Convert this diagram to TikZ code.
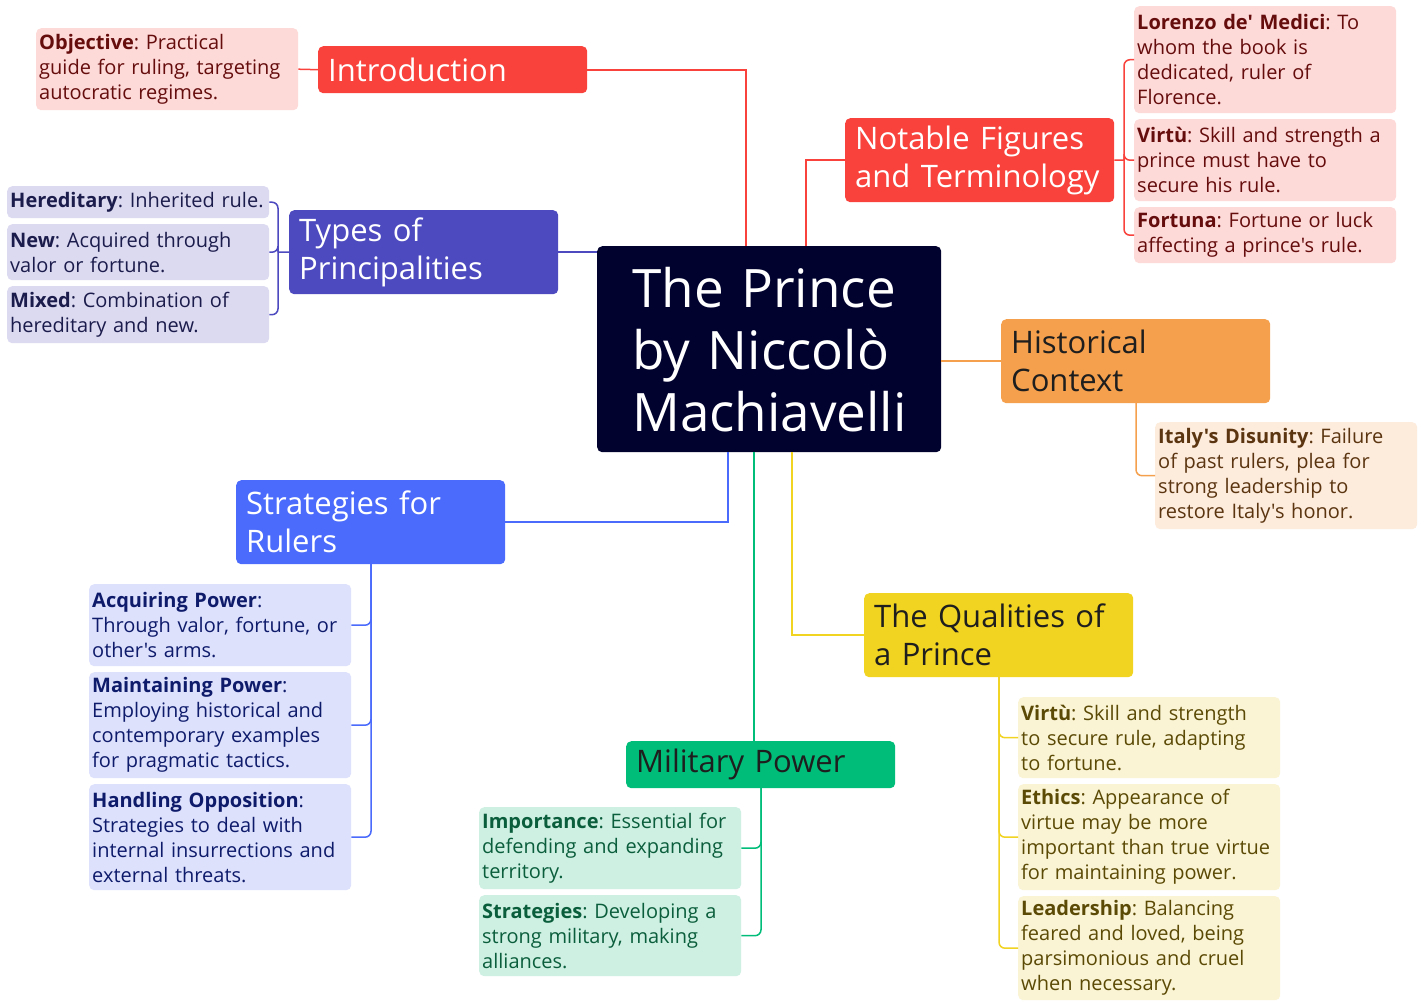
\documentclass[tikz,border=0pt]{standalone}
\usepackage{fontspec}
\setmainfont{Open Sans}[Ligatures=TeXOff]
\usetikzlibrary{calc}
\frenchspacing
\hyphenpenalty=10000
\exhyphenpenalty=10000

% palette
\definecolor{cRed}{HTML}{F8423B}
\definecolor{cRedLeaf}{HTML}{FDD9D8}
\definecolor{cRedText}{HTML}{650C0C}
\definecolor{cIndigo}{HTML}{4D4AC0}
\definecolor{cIndigoLeaf}{HTML}{DCDAF1}
\definecolor{cIndigoText}{HTML}{1C1C4C}
\definecolor{cCore}{HTML}{01022E}
\definecolor{cOrange}{HTML}{F5A04D}
\definecolor{cOrangeLeaf}{HTML}{FDEBDC}
\definecolor{cOrangeText}{HTML}{5B3510}
\definecolor{cBlue}{HTML}{4A6BFB}
\definecolor{cBlueLeaf}{HTML}{DDE1FC}
\definecolor{cBlueText}{HTML}{0E1B6B}
\definecolor{cGreen}{HTML}{00BD7A}
\definecolor{cGreenLeaf}{HTML}{CEF0E3}
\definecolor{cGreenText}{HTML}{0B5E3C}
\definecolor{cYellow}{HTML}{F1D321}
\definecolor{cYellowLeaf}{HTML}{FBF4D4}
\definecolor{cYellowText}{HTML}{5B4A06}
\definecolor{cDark}{HTML}{1E1E1E}

\tikzset{
  topic/.style={anchor=north west, rounded corners=5pt, inner xsep=10pt, inner ysep=0pt,
    text width=249pt, align=left, font=\fontsize{31}{38}\selectfont},
  leaf/.style={anchor=north west, rounded corners=5pt, inner xsep=3pt, inner ysep=0pt,
    text width=256pt, align=left, font=\fontsize{20}{25}\selectfont},
  conn/.style={line width=1.8pt},
  bracket/.style={line width=1.5pt, rounded corners=6pt},
}

\begin{document}
\begin{tikzpicture}[x=1pt, y=-1pt]
\useasboundingbox (0,0) rectangle (1422,1002);
\fill[white] (0,0) rectangle (1422,1002);

% ---- central topic
\node[anchor=north west, fill=cCore, text=white, rounded corners=5pt, minimum width=344pt,
  minimum height=206pt, inner xsep=35pt, inner ysep=0pt, text width=274pt, align=left,
  font=\fontsize{53}{62}\selectfont] (core) at (597,246) {The Prince\\by Niccolò\\Machiavelli};

% ---- main topics
\node[topic, fill=cRed, text=white, minimum height=47pt] (intro) at (318,46) {Introduction};
\node[topic, fill=cIndigo, text=white, minimum height=84pt] (types) at (289,210) {Types of\\Principalities};
\node[topic, fill=cRed, text=white, minimum height=84pt] (figures) at (845,118) {Notable Figures\\and Terminology};
\node[topic, fill=cOrange, text=cDark, minimum height=84pt] (history) at (1001,319) {Historical\\Context};
\node[topic, fill=cBlue, text=white, minimum height=84pt] (strat) at (236,480) {Strategies for\\Rulers};
\node[topic, fill=cGreen, text=cDark, minimum height=47pt] (military) at (626,741) {Military Power};
\node[topic, fill=cYellow, text=cDark, minimum height=84pt] (qualities) at (864,593) {The Qualities of\\a Prince};

% ---- leaves: introduction
\node[leaf, fill=cRedLeaf, text=cRedText, minimum height=82pt] (objective) at (36,28)
  {\textbf{Objective}: Practical\\guide for ruling, targeting\\autocratic regimes.};

% ---- leaves: types of principalities
\node[leaf, fill=cIndigoLeaf, text=cIndigoText, minimum height=32pt] (hered) at (7,186)
  {\textbf{Hereditary}: Inherited rule.};
\node[leaf, fill=cIndigoLeaf, text=cIndigoText, minimum height=56pt] (newp) at (7,224)
  {\textbf{New}: Acquired through\\valor or fortune.};
\node[leaf, fill=cIndigoLeaf, text=cIndigoText, minimum height=57pt] (mixed) at (7,286)
  {\textbf{Mixed}: Combination of\\hereditary and new.};

% ---- leaves: notable figures
\node[leaf, fill=cRedLeaf, text=cRedText, minimum height=107pt] (lorenzo) at (1134,6)
  {\textbf{Lorenzo de' Medici}: To\\whom the book is\\dedicated, ruler of\\Florence.};
\node[leaf, fill=cRedLeaf, text=cRedText, minimum height=82pt] (virtuA) at (1134,119)
  {\textbf{Virtù}: Skill and strength a\\prince must have to\\secure his rule.};
\node[leaf, fill=cRedLeaf, text=cRedText, minimum height=56pt] (fortuna) at (1134,207)
  {\textbf{Fortuna}: Fortune or luck\\affecting a prince's rule.};

% ---- leaves: historical context
\node[leaf, fill=cOrangeLeaf, text=cOrangeText, minimum height=107pt] (italy) at (1155,422)
  {\textbf{Italy's Disunity}: Failure\\of past rulers, plea for\\strong leadership to\\restore Italy's honor.};

% ---- leaves: strategies for rulers
\node[leaf, fill=cBlueLeaf, text=cBlueText, minimum height=82pt] (acquire) at (89,584)
  {\textbf{Acquiring Power}:\\Through valor, fortune, or\\other's arms.};
\node[leaf, fill=cBlueLeaf, text=cBlueText, minimum height=106pt] (maintain) at (89,672)
  {\textbf{Maintaining Power}:\\Employing historical and\\contemporary examples\\for pragmatic tactics.};
\node[leaf, fill=cBlueLeaf, text=cBlueText, minimum height=106pt] (oppose) at (89,784)
  {\textbf{Handling Opposition}:\\Strategies to deal with\\internal insurrections and\\external threats.};

% ---- leaves: military power
\node[leaf, fill=cGreenLeaf, text=cGreenText, minimum height=82pt] (importance) at (479,807)
  {\textbf{Importance}: Essential for\\defending and expanding\\territory.};
\node[leaf, fill=cGreenLeaf, text=cGreenText, minimum height=81pt] (milstrat) at (479,895)
  {\textbf{Strategies}: Developing a\\strong military, making\\alliances.};

% ---- leaves: qualities of a prince
\node[leaf, fill=cYellowLeaf, text=cYellowText, minimum height=81pt] (virtuB) at (1018,697)
  {\textbf{Virtù}: Skill and strength\\to secure rule, adapting\\to fortune.};
\node[leaf, fill=cYellowLeaf, text=cYellowText, minimum height=106pt] (ethics) at (1018,784)
  {\textbf{Ethics}: Appearance of\\virtue may be more\\important than true virtue\\for maintaining power.};
\node[leaf, fill=cYellowLeaf, text=cYellowText, minimum height=104pt] (leader) at (1018,896)
  {\textbf{Leadership}: Balancing\\feared and loved, being\\parsimonious and cruel\\when necessary.};

% ---- connectors from the central topic
\draw[conn, cRed] (intro.east) -| ([xshift=-23pt]core.north);
\draw[conn, cRed] (figures.west) -| ([xshift=37pt]core.north);
\draw[conn, cIndigo] (types.east) -- (types.east -| core.west);
\draw[conn, cOrange] (history.west) -- (history.west -| core.east);
\draw[conn, cBlue] (strat.east) -| ([xshift=-41pt]core.south);
\draw[conn, cGreen] ([xshift=-15pt]core.south) -- ([xshift=-15pt]core.south |- military.north);
\draw[conn, cYellow] (qualities.west) -| ([xshift=23pt]core.south);

% ---- junction points of the leaf brackets
\coordinate (jTypes) at (278,252);
\coordinate (jFig) at (1124,160);
\coordinate (jHist) at (1136,402);
\coordinate (jStrat) at (371,563);
\coordinate (jMil) at (761,787);
\coordinate (jQual) at (999,676);

% ---- leaf brackets
\draw[bracket, cRed] (intro.west) -- (objective.east);

\draw[bracket, cIndigo] (types.west) -- (jTypes);
\foreach \n in {hered, newp, mixed} \draw[bracket, cIndigo] (jTypes) |- (\n.east);

\draw[bracket, cRed] (figures.east) -- (jFig);
\foreach \n in {lorenzo, virtuA, fortuna} \draw[bracket, cRed] (jFig) |- (\n.west);

\draw[bracket, cOrange] (jHist) |- (italy.west);

\foreach \n in {acquire, maintain, oppose} \draw[bracket, cBlue] (jStrat) |- (\n.east);

\foreach \n in {importance, milstrat} \draw[bracket, cGreen] (jMil) |- (\n.east);

\foreach \n in {virtuB, ethics, leader} \draw[bracket, cYellow] (jQual) |- (\n.west);
\end{tikzpicture}
\end{document}
